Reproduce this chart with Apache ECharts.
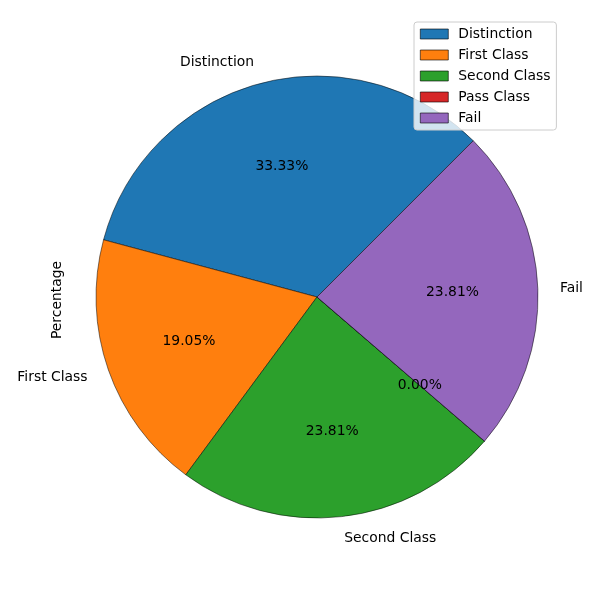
<!DOCTYPE html>
<html style="height: 100%">
   <head>
       <meta charset="utf-8">
   </head>
   <body style="height: 100%; margin: 0">
       <div id="container" style="width: 600px; height: 600px"></div>
       <script type="text/javascript" src="https://cdn.jsdelivr.net/npm/echarts@6/dist/echarts.min.js"></script>
       <script type="text/javascript">
var categories = ['Distinction', 'First Class', 'Second Class', 'Pass Class', 'Fail'];
var counts = [7, 4, 5, 0, 5];
var colors = ['#1f77b4', '#ff7f0e', '#2ca02c', '#d62728', '#9467bd'];

var R = 221;
var font = 'DejaVu Sans';
var fs = 13.9;

var dom = document.getElementById("container");
var myChart = echarts.init(dom);

var mainData = categories.map(function (c, i) {
    return {
        name: c,
        value: counts[i],
        itemStyle: {color: colors[i]},
        label: {show: counts[i] > 0}
    };
});
var pctData = categories.map(function (c, i) {
    return {name: c, value: counts[i]};
});

var option = {
    animation: false,
    legend: {
        orient: 'vertical',
        left: 414,
        top: 22,
        padding: [5, 6],
        icon: 'rect',
        itemWidth: 28,
        itemHeight: 10,
        itemGap: 7,
        data: categories,
        itemStyle: {borderColor: '#000', borderWidth: 0.6},
        backgroundColor: 'rgba(255,255,255,0.8)',
        borderColor: '#cccccc',
        borderWidth: 1,
        borderRadius: 3,
        textStyle: {fontFamily: font, fontSize: fs, color: '#000', padding: [0, 0, 0, 5]}
    },
    graphic: [{
        type: 'text',
        x: 57,
        y: 300,
        rotation: Math.PI / 2,
        style: {
            text: 'Percentage',
            fontFamily: font,
            fontSize: fs,
            fill: '#000',
            align: 'center',
            verticalAlign: 'middle'
        }
    }],
    series: [{
        name: 'main',
        type: 'pie',
        center: [317, 297],
        radius: [0, R],
        startAngle: 45,
        clockwise: false,
        avoidLabelOverlap: false,
        itemStyle: {borderColor: '#000', borderWidth: 0.5},
        label: {
            position: 'outside',
            formatter: '{b}',
            fontFamily: font,
            fontSize: fs,
            color: '#000',
            distanceToLabelLine: 0
        },
        labelLine: {show: false, length: R * 0.1, length2: 0},
        emphasis: {disabled: true},
        data: mainData
    }, {
        name: 'pct',
        type: 'pie',
        center: [317, 297],
        radius: [R * 0.2, R],
        startAngle: 45,
        clockwise: false,
        silent: true,
        avoidLabelOverlap: false,
        itemStyle: {color: 'rgba(0,0,0,0)', borderWidth: 0},
        label: {
            position: 'inside',
            formatter: function (p) { return p.percent.toFixed(2) + '%'; },
            fontFamily: font,
            fontSize: fs,
            color: '#000'
        },
        labelLine: {show: false},
        emphasis: {disabled: true},
        data: pctData
    }]
};

if (option && typeof option === "object") {
    myChart.setOption(option, true);
}
       </script>
   </body>
</html>
